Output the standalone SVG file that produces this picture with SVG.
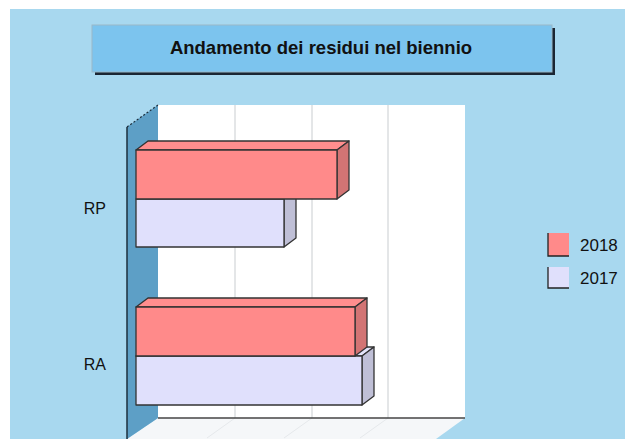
<svg xmlns="http://www.w3.org/2000/svg" width="625" height="439" viewBox="0 0 625 439">
<style>
.t{font-family:"Liberation Sans",Arial,sans-serif;fill:#111}
.bar{stroke:#333;stroke-width:1.3;stroke-linejoin:round}
.r{fill:#ff8a8a}.rs{fill:#d27474}.rt{fill:#ff8e8e}
.l{fill:#e0e0fc}.ls{fill:#bfbfd6}.lt{fill:#e4e4fa}
.grid{stroke:#c9cdd0;stroke-width:1}
</style>
<rect width="625" height="439" fill="#ffffff"/>
<rect x="10" y="9" width="615" height="430" fill="#a8d8ef"/>
<g id="title">
<rect x="95" y="28" width="460" height="47" fill="#1b2633"/>
<rect x="92" y="25" width="460" height="47" fill="#7cc4ee" stroke="#9ab8c8" stroke-width="1"/>
<text class="t" x="321" y="54" font-size="18.5" font-weight="bold" text-anchor="middle">Andamento dei residui nel biennio</text>
</g>
<g id="plot">
<rect x="158" y="105" width="307" height="313" fill="#ffffff"/>
<polygon points="158,418 465,418 436,439 127,439" fill="#f5f7f9"/>
<polygon points="127,127 158,105 158,418 127,439" fill="#5d9fc6"/>
<line x1="127" y1="127" x2="127" y2="439" stroke="#1d2f3d" stroke-width="1.5"/>
<line x1="127" y1="127" x2="158" y2="105" stroke="#1d2f3d" stroke-width="1.2" stroke-dasharray="2,2"/>
<line class="grid" x1="235" y1="105" x2="235" y2="418" stroke="#ebeef0"/>
<line class="grid" x1="312" y1="105" x2="312" y2="418"/>
<line class="grid" x1="388" y1="105" x2="388" y2="418"/>
<line x1="235" y1="418" x2="207" y2="438" stroke="#e6e9ec"/>
<line x1="312" y1="418" x2="284" y2="438" stroke="#e6e9ec"/>
<line x1="388" y1="418" x2="360" y2="438" stroke="#e6e9ec"/>
<line x1="158" y1="418" x2="465" y2="418" stroke="#444" stroke-width="1.3"/>
</g>
<g id="bars">
<g id="RP-2017" class="bar">
<polygon class="ls" points="284,199 296,190 296,238 284,247"/>
<rect class="l" x="136" y="199" width="148" height="48"/>
</g>
<g id="RP-2018" class="bar">
<polygon class="rt" points="136,150 148,141 349,141 337,150"/>
<polygon class="rs" points="337,150 349,141 349,190 337,199"/>
<rect class="r" x="136" y="150" width="201" height="49"/>
</g>
<g id="RA-2017" class="bar">
<polygon class="lt" points="136,356 148,347 374,347 362,356"/>
<polygon class="ls" points="362,356 374,347 374,396 362,405"/>
<rect class="l" x="136" y="356" width="226" height="49"/>
</g>
<g id="RA-2018" class="bar">
<polygon class="rt" points="136,307 148,298 367,298 355,307"/>
<polygon class="rs" points="355,307 367,298 367,347 355,356"/>
<rect class="r" x="136" y="307" width="219" height="49"/>
</g>
</g>
<g id="labels">
<text class="t" x="106" y="214" font-size="16" text-anchor="end">RP</text>
<text class="t" x="106" y="370" font-size="16" text-anchor="end">RA</text>
</g>
<g id="legend">
<rect x="548" y="233" width="21" height="23" fill="#ff8a8a"/>
<polyline points="548,233 548,256 569,256" fill="none" stroke="#222" stroke-width="1.3"/>
<rect x="548" y="267" width="21" height="21" fill="#e0e0fc"/>
<polyline points="548,267 548,288 569,288" fill="none" stroke="#222" stroke-width="1.3"/>
<text class="t" x="580" y="251" font-size="17">2018</text>
<text class="t" x="580" y="284" font-size="17">2017</text>
</g>
</svg>
